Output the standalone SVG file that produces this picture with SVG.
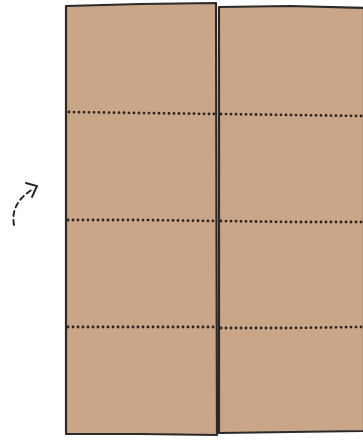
<svg xmlns="http://www.w3.org/2000/svg" width="363" height="441" viewBox="0 0 363 441">
<style>
.panel{fill:#c9a687;stroke:#2a2a2a;stroke-width:2.2;stroke-linejoin:round}
.fold{fill:none;stroke:#2a2320;stroke-width:2.8;stroke-linecap:round;stroke-dasharray:0 5}
.arr{fill:none;stroke:#222;stroke-width:1.9;stroke-linecap:round}
</style>
<rect width="363" height="441" fill="#fff"/>
<g id="panel-left">
<path class="panel" d="M66,6 L140,4 L216,3 L217,435 L140,434 L66,434 Z"/>
</g>
<g id="panel-right">
<path class="panel" d="M219,7 L290,6 L364,8 L364,431 L290,432 L219,433 Z"/>
</g>
<g id="folds">
<path class="fold" d="M69,112 L140,113 L216,114"/>
<path class="fold" d="M221,114 L290,115 L362,116"/>
<path class="fold" d="M68,220 L140,220 L216,221"/>
<path class="fold" d="M221,221 L290,222 L362,222"/>
<path class="fold" d="M68,327 L140,327 L216,327"/>
<path class="fold" d="M221,328 L290,328 L362,327"/>
</g>
<g id="connectors">
<path class="arr" d="M14,225 Q10,203 33,189" stroke-dasharray="5 4"/>
<path class="arr" d="M26,183 L37,186 L32,197"/>
</g>
</svg>
